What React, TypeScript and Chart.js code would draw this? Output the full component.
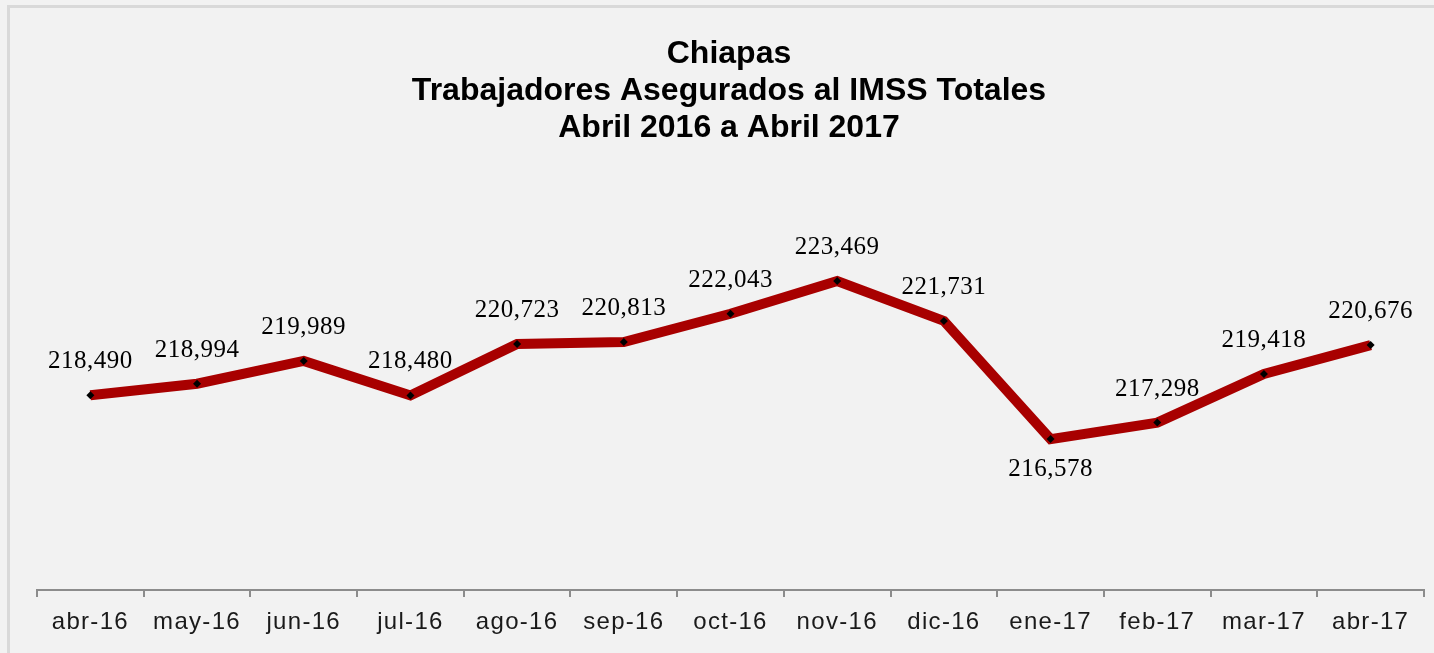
import React, { useEffect, useRef } from "react";
import { Chart, registerables } from "chart.js";

Chart.register(...registerables);

const titleLines = ["Chiapas", "Trabajadores Asegurados al IMSS Totales", "Abril 2016 a Abril 2017"];
const categories = ["abr-16", "may-16", "jun-16", "jul-16", "ago-16", "sep-16", "oct-16", "nov-16", "dic-16", "ene-17", "feb-17", "mar-17", "abr-17"];
const trabajadores = [218490, 218994, 219989, 218480, 220723, 220813, 222043, 223469, 221731, 216578, 217298, 219418, 220676];
const labelBelow = [false, false, false, false, false, false, false, false, false, true, false, false, false];
const yMin = 210000;
const yMax = 226000;

const fmt = (v: number) => v.toLocaleString("en-US");

const spacingPlugin = {
  id: "spacing",
  beforeDraw(chart: any) {
    chart.ctx.letterSpacing = "1.3px";
  },
};

const titlePlugin = {
  id: "customTitle",
  afterDraw(chart: any) {
    const ctx = chart.ctx;
    ctx.save();
    ctx.letterSpacing = "0px";
    ctx.fillStyle = "#000000";
    ctx.font = "bold 32px 'Liberation Sans', Arial, sans-serif";
    ctx.textAlign = "center";
    ctx.textBaseline = "alphabetic";
    const baselines = [63, 100, 137];
    titleLines.forEach((t, i) => ctx.fillText(t, 729, baselines[i]));
    ctx.restore();
  },
};

const dataLabelPlugin = {
  id: "dataLabels",
  afterDatasetsDraw(chart: any) {
    const ctx = chart.ctx;
    const meta = chart.getDatasetMeta(0);
    ctx.save();
    ctx.letterSpacing = "0.5px";
    ctx.fillStyle = "#000000";
    ctx.font = "25px 'Liberation Serif', 'Times New Roman', serif";
    ctx.textAlign = "center";
    ctx.textBaseline = "alphabetic";
    meta.data.forEach((pt: any, i: number) => {
      const v = trabajadores[i];
      const y = labelBelow[i] ? pt.y + 37 : pt.y - 27;
      ctx.fillText(fmt(v), pt.x, y);
    });
    ctx.restore();
  },
};

export default function App() {
  const ref = useRef<HTMLCanvasElement | null>(null);
  useEffect(() => {
    if (!ref.current) return;
    const chart = new Chart(ref.current, {
      type: "line",
      data: {
        labels: categories,
        datasets: [
          {
            data: trabajadores,
            borderColor: "#a80000",
            borderWidth: 10,
            borderJoinStyle: "miter",
            tension: 0,
            pointStyle: "rectRot",
            pointRadius: 4,
            pointBackgroundColor: "#000000",
            pointBorderColor: "#000000",
            pointBorderWidth: 0,
            fill: false,
          },
        ],
      },
      options: {
        responsive: false,
        animation: false,
        devicePixelRatio: 1,
        layout: { padding: { left: 37, right: 10, top: 223, bottom: 0 } },
        plugins: {
          legend: { display: false },
          title: { display: false },
          tooltip: { enabled: false },
        },
        scales: {
          x: {
            type: "category",
            offset: true,
            afterFit: (scale: any) => {
              scale.height = 63;
            },
            grid: {
              offset: true,
              drawOnChartArea: false,
              drawTicks: true,
              tickLength: 7,
              color: "#8c8c8c",
              lineWidth: 2,
            },
            border: { display: true, color: "#8c8c8c", width: 2 },
            ticks: {
              color: "#1a1a1a",
              font: { family: "'Liberation Sans', Arial, sans-serif", size: 24 },
              padding: 11,
              maxRotation: 0,
              autoSkip: false,
            },
          },
          y: {
            display: false,
            min: yMin,
            max: yMax,
          },
        },
      },
      plugins: [spacingPlugin, titlePlugin, dataLabelPlugin],
    });
    return () => chart.destroy();
  }, []);

  return (
    <div style={{ position: "fixed", left: 0, top: 0, width: 1434, height: 653, background: "#f2f2f2", overflow: "hidden" }}>
      <div
        style={{
          position: "absolute",
          left: 7,
          top: 5,
          width: 1440,
          height: 660,
          borderTop: "3px solid #d9d9d9",
          borderLeft: "3px solid #d9d9d9",
        }}
      />
      <canvas ref={ref} width={1434} height={653} style={{ position: "absolute", left: 0, top: 0 }} />
    </div>
  );
}
